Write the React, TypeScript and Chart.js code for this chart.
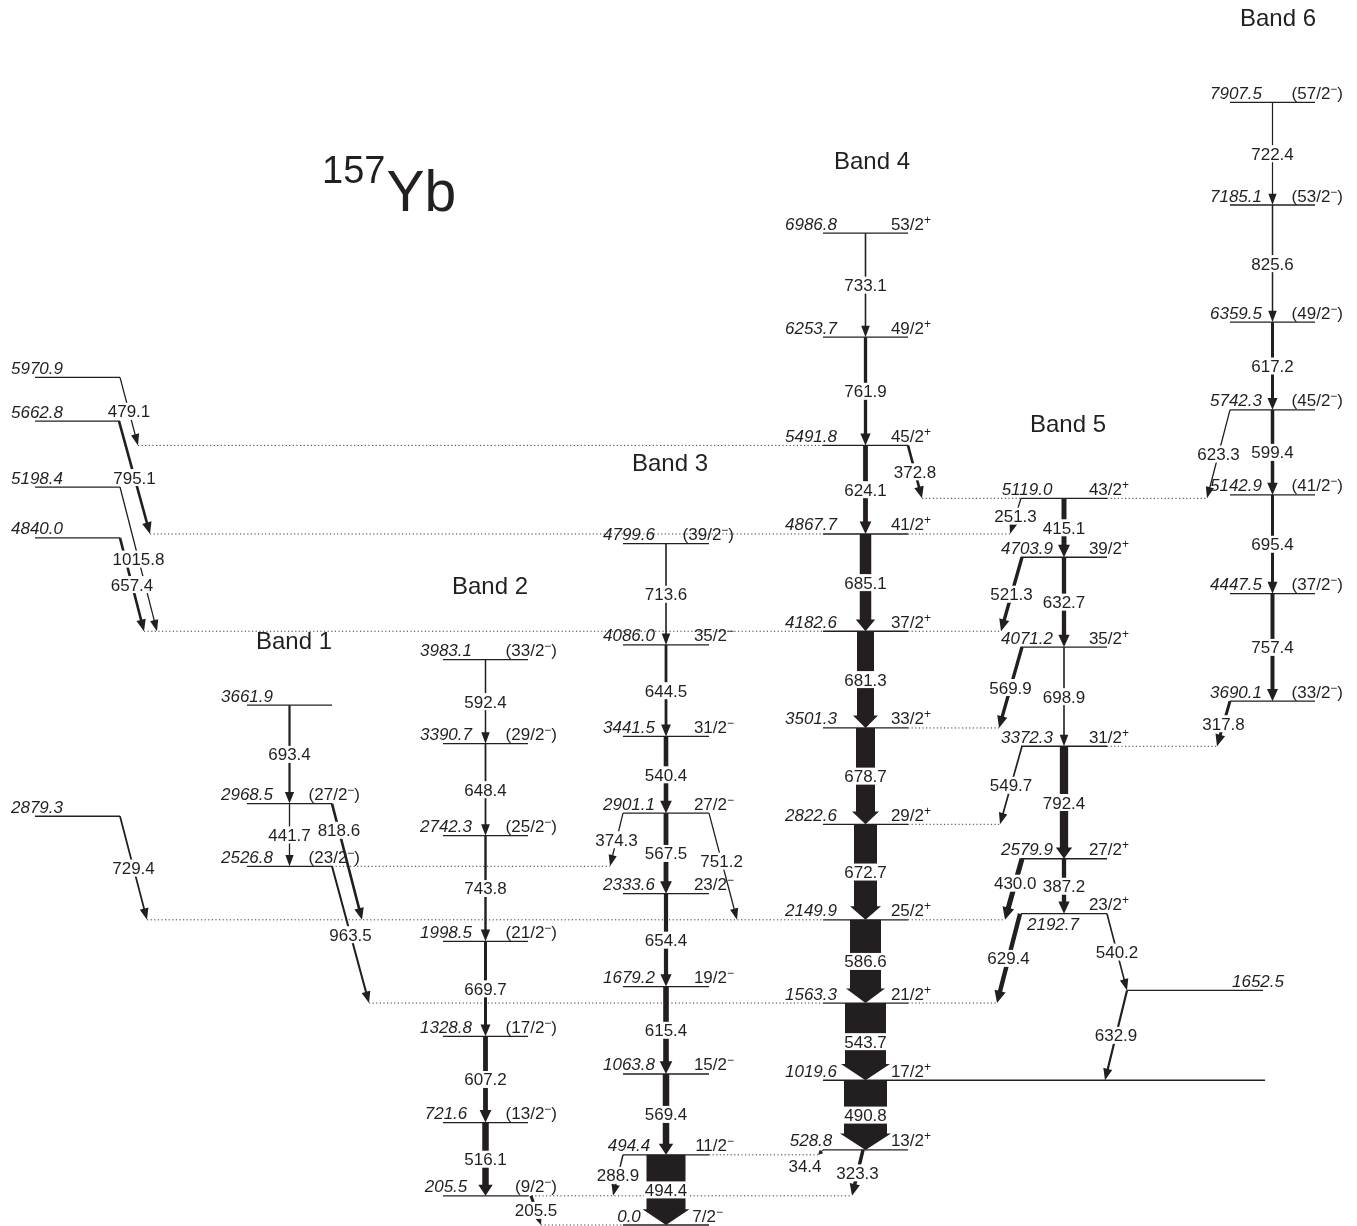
import React, { useEffect, useRef } from "react";
import { Chart, registerables } from "chart.js";

Chart.register(...registerables);

// ---------------- DATA ----------------
// Level energies (keV) and spins, per band, top to bottom
const sideLevels = ["5970.9", "5662.8", "5198.4", "4840.0", "2879.3"];
const band1Levels = ["3661.9", "2968.5", "2526.8"];
const band1Spins = ["", "(27/2−)", "(23/2−)"];
const band2Levels = ["3983.1", "3390.7", "2742.3", "1998.5", "1328.8", "721.6", "205.5"];
const band2Spins = ["(33/2−)", "(29/2−)", "(25/2−)", "(21/2−)", "(17/2−)", "(13/2−)", "(9/2−)"];
const band3Levels = ["4799.6", "4086.0", "3441.5", "2901.1", "2333.6", "1679.2", "1063.8", "494.4", "0.0"];
const band3Spins = ["(39/2−)", "35/2−", "31/2−", "27/2−", "23/2−", "19/2−", "15/2−", "11/2−", "7/2−"];
const band4Levels = ["6986.8", "6253.7", "5491.8", "4867.7", "4182.6", "3501.3", "2822.6", "2149.9", "1563.3", "1019.6", "528.8"];
const band4Spins = ["53/2+", "49/2+", "45/2+", "41/2+", "37/2+", "33/2+", "29/2+", "25/2+", "21/2+", "17/2+", "13/2+"];
const band5Levels = ["5119.0", "4703.9", "4071.2", "3372.3", "2579.9", "2192.7"];
const band5Spins = ["43/2+", "39/2+", "35/2+", "31/2+", "27/2+", "23/2+"];
const band6Levels = ["7907.5", "7185.1", "6359.5", "5742.3", "5142.9", "4447.5", "3690.1"];
const band6Spins = ["(57/2−)", "(53/2−)", "(49/2−)", "(45/2−)", "(41/2−)", "(37/2−)", "(33/2−)"];
const otherLevels = ["1652.5"];

const bandTitles = ["Band 1", "Band 2", "Band 3", "Band 4", "Band 5", "Band 6"];
const nucleusMass = "157";
const nucleusSymbol = "Yb";

// Gamma transitions: energy label, initial level, final level, relative intensity
const gammaEnergies = [
  "479.1", "795.1", "1015.8", "657.4", "729.4",
  "693.4", "441.7", "818.6", "963.5",
  "592.4", "648.4", "743.8", "669.7", "607.2", "516.1", "205.5",
  "713.6", "644.5", "540.4", "567.5", "654.4", "615.4", "569.4", "494.4", "374.3", "751.2", "288.9",
  "733.1", "761.9", "624.1", "685.1", "681.3", "678.7", "672.7", "586.6", "543.7", "490.8", "323.3", "34.4", "372.8",
  "415.1", "632.7", "698.9", "792.4", "387.2", "251.3", "521.3", "569.9", "549.7", "430.0", "629.4", "540.2", "632.9",
  "722.4", "825.6", "617.2", "599.4", "695.4", "757.4", "623.3", "317.8",
];
const gammaFrom = [
  "5970.9", "5662.8", "5198.4", "4840.0", "2879.3",
  "3661.9", "2968.5", "2968.5", "2526.8",
  "3983.1", "3390.7", "2742.3", "1998.5", "1328.8", "721.6", "205.5",
  "4799.6", "4086.0", "3441.5", "2901.1", "2333.6", "1679.2", "1063.8", "494.4", "2901.1", "2901.1", "494.4",
  "6986.8", "6253.7", "5491.8", "4867.7", "4182.6", "3501.3", "2822.6", "2149.9", "1563.3", "1019.6", "528.8", "528.8", "5491.8",
  "5119.0", "4703.9", "4071.2", "3372.3", "2579.9", "5119.0", "4703.9", "4071.2", "3372.3", "2579.9", "2192.7", "2192.7", "1652.5",
  "7907.5", "7185.1", "6359.5", "5742.3", "5142.9", "4447.5", "5742.3", "3690.1",
];
const gammaTo = [
  "5491.8", "4867.7", "4182.6", "4182.6", "2149.9",
  "2968.5", "2526.8", "2149.9", "1563.3",
  "3390.7", "2742.3", "1998.5", "1328.8", "721.6", "205.5", "0.0",
  "4086.0", "3441.5", "2901.1", "2333.6", "1679.2", "1063.8", "494.4", "0.0", "2526.8", "2149.9", "205.5",
  "6253.7", "5491.8", "4867.7", "4182.6", "3501.3", "2822.6", "2149.9", "1563.3", "1019.6", "528.8", "205.5", "494.4", "5119.0",
  "4703.9", "4071.2", "3372.3", "2579.9", "2192.7", "4867.7", "4182.6", "3501.3", "2822.6", "2149.9", "1563.3", "1652.5", "1019.6",
  "7185.1", "6359.5", "5742.3", "5142.9", "4447.5", "3690.1", "5119.0", "3372.3",
];
const gammaIntensity = [
  1.3, 2.6, 1.3, 2.6, 1.8,
  2.2, 1.3, 2.6, 2.0,
  1.5, 1.8, 2.4, 3.0, 4.8, 6.5, 3.0,
  1.6, 2.8, 4.6, 4.8, 4.2, 5.6, 6.5, 39, 1.3, 1.3, 1.5,
  1.6, 3.3, 4.8, 11.5, 17, 19, 23, 31, 41, 43, 3.5, 1.0, 2.6,
  5.0, 4.3, 1.6, 8.3, 4.3, 1.3, 3.4, 3.4, 1.7, 5.0, 4.4, 1.6, 2.2,
  1.2, 1.5, 3.0, 3.5, 3.0, 4.0, 1.3, 3.0,
];

// ---------------- LAYOUT ----------------
const X_MIN = 0;
const X_MAX = 1357;
const KEV_PER_PX = 1 / 0.14196;
const Y_MIN = -1 * KEV_PER_PX;
const Y_MAX = 1225 * KEV_PER_PX;

type Col = { x1: number; x2: number; ex: number; sx?: number };
const COLUMNS: Record<string, Col> = {
  side: { x1: 35, x2: 120, ex: 37 },
  b1: { x1: 247, x2: 332, ex: 247, sx: 360 },
  b2: { x1: 443, x2: 528, ex: 446, sx: 557 },
  b3: { x1: 623, x2: 709, ex: 629, sx: 734 },
  b4: { x1: 823, x2: 908, ex: 811, sx: 931 },
  b5: { x1: 1021, x2: 1107, ex: 1027, sx: 1129 },
  b6: { x1: 1230, x2: 1315, ex: 1236, sx: 1343 },
  other: { x1: 1127, x2: 1263, ex: 1258 },
};
const LEVEL_EXTENT: Record<string, [number, number]> = { "1019.6": [823, 1265] };
const ENERGY_LABEL_POS: Record<string, { x: number; below?: boolean }> = {
  "2192.7": { x: 1053, below: true },
};
const SPIN_LABEL_RIGHT: Record<string, number> = { "0.0": 723 };

// cross-band transitions: [x start, x tip, label fraction, label dx, label dy]
const CROSS: Record<string, number[]> = {
  "479.1": [120, 138],
  "795.1": [119, 150],
  "1015.8": [120, 157],
  "657.4": [120, 144],
  "729.4": [120, 147],
  "818.6": [332, 362, 0.23],
  "963.5": [332, 369],
  "205.5": [531, 541],
  "374.3": [623, 610],
  "751.2": [709, 737, 0.45],
  "288.9": [623, 613],
  "323.3": [863, 852],
  "34.4": [823, 818, 1, -13, 11],
  "372.8": [908, 922],
  "251.3": [1021, 1010],
  "521.3": [1022, 1001],
  "569.9": [1022, 999],
  "549.7": [1022, 1000],
  "430.0": [1022, 1005, 0.4],
  "629.4": [1020, 997],
  "540.2": [1107, 1127],
  "632.9": [1127, 1105],
  "623.3": [1230, 1207],
  "317.8": [1230, 1217],
};

// titles: x in layout units, y in keV units
const BAND_TITLE_POS = [
  [294, 4107], [490, 4494], [670, 5361], [872, 7488], [1068, 5635], [1278, 8495],
];
const NUCLEUS_POS = [322, 7340, 7143];

const FONT = '"Liberation Sans", Arial, Helvetica, sans-serif';
const INK = "#231f20";

// ---------------- BUILD ----------------
type Level = { label: string; E: number; col: string; x1: number; x2: number; spin: string };

function buildLevels(): Record<string, Level> {
  const groups: [string, string[], string[]][] = [
    ["side", sideLevels, []],
    ["b1", band1Levels, band1Spins],
    ["b2", band2Levels, band2Spins],
    ["b3", band3Levels, band3Spins],
    ["b4", band4Levels, band4Spins],
    ["b5", band5Levels, band5Spins],
    ["b6", band6Levels, band6Spins],
    ["other", otherLevels, []],
  ];
  const map: Record<string, Level> = {};
  for (const [col, levels, spins] of groups) {
    levels.forEach((l, i) => {
      const c = COLUMNS[col];
      const ext = LEVEL_EXTENT[l] || [c.x1, c.x2];
      map[l] = { label: l, E: parseFloat(l), col, x1: ext[0], x2: ext[1], spin: spins[i] || "" };
    });
  }
  return map;
}

type Gamma = { label: string; x1: number; x2: number; e1: number; e2: number; w: number; t: number; dx: number; dy: number; vertical: boolean };

function buildGammas(levels: Record<string, Level>): Gamma[] {
  return gammaEnergies.map((g, i) => {
    const from = levels[gammaFrom[i]];
    const to = levels[gammaTo[i]];
    const c = CROSS[g];
    let x1: number, x2: number, t = 0.5, dx = 0, dy = 0;
    if (c) {
      x1 = c[0]; x2 = c[1];
      if (c[2] !== undefined) t = c[2];
      if (c[3] !== undefined) dx = c[3];
      if (c[4] !== undefined) dy = c[4];
    } else {
      const col = COLUMNS[from.col];
      x1 = x2 = (col.x1 + col.x2) / 2;
    }
    return { label: g, x1, x2, e1: from.E, e2: to.E, w: gammaIntensity[i], t, dx, dy, vertical: !c };
  });
}

function buildDotted(levels: Record<string, Level>, gammas: Gamma[]) {
  const intervals: Record<string, [number, number][]> = {};
  gammas.forEach((g, i) => {
    const to = levels[gammaTo[i]];
    let seg: [number, number] | null = null;
    if (g.x2 < to.x1 - 0.5) seg = [g.x2, to.x1];
    else if (g.x2 > to.x2 + 0.5) seg = [to.x2, g.x2];
    if (seg) (intervals[to.label] = intervals[to.label] || []).push(seg);
  });
  const out: { E: number; a: number; b: number }[] = [];
  for (const k of Object.keys(intervals)) {
    const segs = intervals[k].sort((p, q) => p[0] - q[0]);
    let cur = [...segs[0]] as [number, number];
    for (let i = 1; i < segs.length; i++) {
      if (segs[i][0] <= cur[1]) cur[1] = Math.max(cur[1], segs[i][1]);
      else { out.push({ E: parseFloat(k), a: cur[0], b: cur[1] }); cur = [...segs[i]] as [number, number]; }
    }
    out.push({ E: parseFloat(k), a: cur[0], b: cur[1] });
  }
  return out;
}

function drawArrow(ctx: CanvasRenderingContext2D, x1: number, y1: number, x2: number, y2: number, w: number) {
  const dx = x2 - x1, dy = y2 - y1;
  const L = Math.hypot(dx, dy);
  if (L < 0.5) return;
  const ux = dx / L, uy = dy / L;
  const nx = -uy, ny = ux;
  let hl = w > 6 ? Math.min(10 + w * 0.15, 17) : 11 + w * 0.3;
  hl = Math.min(hl, L * 0.7);
  let hw = Math.max(w + 7, 8);
  hw = Math.min(hw, Math.max(hl * 1.0, w + 2));
  if (w > 6) hw = w + 8;
  const bx = x2 - ux * hl, by = y2 - uy * hl;
  ctx.beginPath();
  ctx.moveTo(x1 + (nx * w) / 2, y1 + (ny * w) / 2);
  ctx.lineTo(bx + (nx * w) / 2, by + (ny * w) / 2);
  ctx.lineTo(bx + (nx * hw) / 2, by + (ny * hw) / 2);
  ctx.lineTo(x2, y2);
  ctx.lineTo(bx - (nx * hw) / 2, by - (ny * hw) / 2);
  ctx.lineTo(bx - (nx * w) / 2, by - (ny * w) / 2);
  ctx.lineTo(x1 - (nx * w) / 2, y1 - (ny * w) / 2);
  ctx.closePath();
  ctx.fill();
}

function drawSpin(ctx: CanvasRenderingContext2D, text: string, right: number, base: number) {
  const m = text.match(/^(.*?)([+\u2212])(\)?)$/);
  if (!m) return;
  const main = m[1], sign = m[2], close = m[3];
  ctx.font = `17px ${FONT}`;
  const w1 = ctx.measureText(main).width;
  const w3 = ctx.measureText(close).width;
  ctx.font = `12px ${FONT}`;
  const w2 = ctx.measureText(sign).width;
  const x0 = right - (w1 + w2 + w3);
  ctx.textAlign = "left";
  ctx.font = `17px ${FONT}`;
  ctx.fillText(main, x0, base);
  ctx.fillText(close, x0 + w1 + w2, base);
  ctx.font = `12px ${FONT}`;
  ctx.fillText(sign, x0 + w1, base - 6);
}

export default function App() {
  const ref = useRef<HTMLCanvasElement | null>(null);

  useEffect(() => {
    document.body.style.margin = "0";
    document.body.style.overflow = "hidden";
    const canvas = ref.current;
    if (!canvas) return;
    const levels = buildLevels();
    const gammas = buildGammas(levels);
    const dotted = buildDotted(levels, gammas);

    const datasets: any[] = [];
    for (const d of dotted) {
      datasets.push({
        data: [{ x: d.a, y: d.E }, { x: d.b, y: d.E }],
        showLine: true, borderColor: "#3a3a3a", borderWidth: 1, borderDash: [1.2, 2.4],
        pointRadius: 0, fill: false,
      });
    }
    for (const k of Object.keys(levels)) {
      const l = levels[k];
      datasets.push({
        data: [{ x: l.x1, y: l.E }, { x: l.x2, y: l.E }],
        showLine: true, borderColor: INK, borderWidth: 1.3,
        pointRadius: 0, fill: false,
      });
    }

    const schemePlugin = {
      id: "levelScheme",
      afterDatasetsDraw(chart: any) {
        const ctx: CanvasRenderingContext2D = chart.ctx;
        const xs = chart.scales.x, ys = chart.scales.y;
        const px = (v: number) => xs.getPixelForValue(v);
        const py = (v: number) => ys.getPixelForValue(v);
        ctx.save();
        ctx.fillStyle = INK;
        // arrows
        for (const g of gammas) {
          drawArrow(ctx, px(g.x1), py(g.e1), px(g.x2), py(g.e2), g.w);
        }
        // gamma labels with white background
        ctx.font = `17px ${FONT}`;
        ctx.textAlign = "center";
        ctx.textBaseline = "alphabetic";
        for (const g of gammas) {
          const X1 = px(g.x1), Y1 = py(g.e1), X2 = px(g.x2), Y2 = py(g.e2);
          const cx = X1 + (X2 - X1) * g.t + g.dx;
          const cy = Y1 + (Y2 - Y1) * g.t + g.dy;
          const tw = ctx.measureText(g.label).width;
          const bw = g.vertical ? Math.max(tw + 2, g.w + 3) : tw + 2;
          ctx.fillStyle = "#ffffff";
          ctx.fillRect(cx - bw / 2, cy - 8.5, bw, 17);
          ctx.fillStyle = INK;
          ctx.fillText(g.label, cx, cy + 6);
        }
        // level labels
        for (const k of Object.keys(levels)) {
          const l = levels[k];
          const col = COLUMNS[l.col];
          const y = py(l.E);
          const pos = ENERGY_LABEL_POS[l.label];
          ctx.font = `italic 17px ${FONT}`;
          ctx.textAlign = "center";
          ctx.fillStyle = INK;
          const ex = pos ? pos.x : col.ex;
          ctx.fillText(l.label, px(ex), pos && pos.below ? y + 16 : y - 3.5);
          if (l.spin && col.sx !== undefined) {
            const r = SPIN_LABEL_RIGHT[l.label] ?? col.sx;
            drawSpin(ctx, l.spin, px(r), y - 3.5);
          }
        }
        // band titles
        ctx.font = `24px ${FONT}`;
        ctx.textAlign = "center";
        ctx.textBaseline = "middle";
        bandTitles.forEach((t, i) => {
          ctx.fillText(t, px(BAND_TITLE_POS[i][0]), py(BAND_TITLE_POS[i][1]));
        });
        // nucleus label
        ctx.textAlign = "left";
        ctx.textBaseline = "alphabetic";
        ctx.font = `38px ${FONT}`;
        const mx = px(NUCLEUS_POS[0]);
        ctx.fillText(nucleusMass, mx, py(NUCLEUS_POS[1]));
        const mw = ctx.measureText(nucleusMass).width;
        ctx.font = `57px ${FONT}`;
        ctx.fillText(nucleusSymbol, mx + mw + 1, py(NUCLEUS_POS[2]));
        ctx.restore();
      },
    };

    const chart = new Chart(canvas, {
      type: "scatter",
      data: { datasets },
      options: {
        animation: false,
        responsive: false,
        maintainAspectRatio: false,
        events: [],
        layout: { padding: 0 },
        plugins: { legend: { display: false }, tooltip: { enabled: false }, title: { display: false } },
        elements: { point: { radius: 0 }, line: { tension: 0 } },
        scales: {
          x: { type: "linear", min: X_MIN, max: X_MAX, display: false },
          y: { type: "linear", min: Y_MIN, max: Y_MAX, display: false },
        },
      },
      plugins: [schemePlugin],
    } as any);
    return () => chart.destroy();
  }, []);

  return (
    <div style={{ width: 1357, height: 1226, background: "#ffffff" }}>
      <canvas ref={ref} width={1357} height={1226} style={{ display: "block" }} />
    </div>
  );
}
